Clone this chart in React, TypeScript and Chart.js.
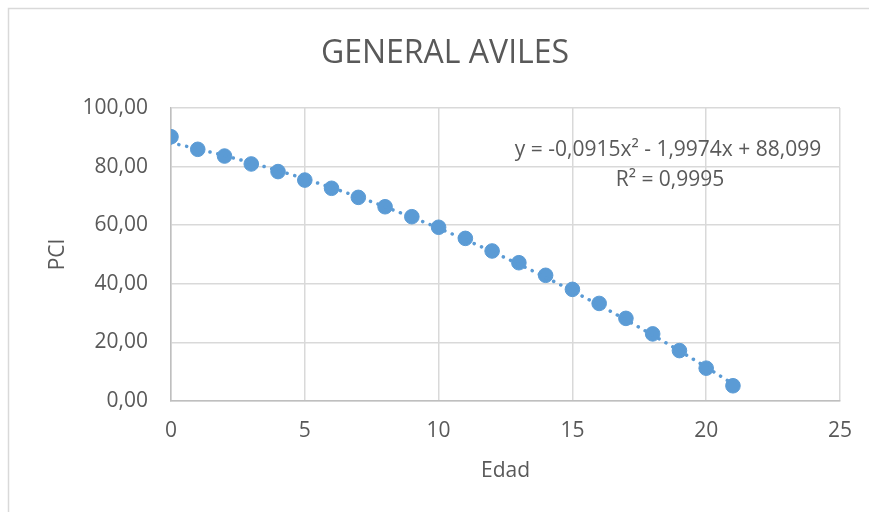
import { useEffect, useRef } from "react";
import { Chart, registerables } from "chart.js";

Chart.register(...registerables);

// Age (years) and measured PCI
const edad = [0, 1, 2, 3, 4, 5, 6, 7, 8, 9, 10, 11, 12, 13, 14, 15, 16, 17, 18, 19, 20, 21];
const pci = [
  90.2, 85.9, 83.6, 80.9, 78.3, 75.4, 72.6, 69.5, 66.3, 62.9, 59.3,
  55.5, 51.2, 47.2, 42.9, 38.1, 33.3, 28.2, 22.9, 17.2, 11.2, 5.2,
];

// Polynomial trendline (order 2) coefficients
const TREND_A = -0.0915;
const TREND_B = -1.9974;
const TREND_C = 88.099;
const trendLabel = ["y = -0,0915x² - 1,9974x + 88,099", "R² = 0,9995"];

const chartTitle = "GENERAL AVILES";
const xAxisTitle = "Edad";
const yAxisTitle = "PCI";

const X_MIN = 0;
const X_MAX = 25;
const X_STEP = 5;
const Y_MIN = 0;
const Y_MAX = 100;
const Y_STEP = 20;

const FONT = "'Open Sans', 'Noto Sans', sans-serif";
const TEXT = "#595959";
const BLUE = "#5b9bd5";
const GRID = "#d9d9d9";

function trendPoints() {
  const pts: { x: number; y: number }[] = [];
  const first = edad[0];
  const last = edad[edad.length - 1];
  for (let x = first; x <= last + 1e-9; x += 0.25) {
    pts.push({ x, y: TREND_A * x * x + TREND_B * x + TREND_C });
  }
  return pts;
}

const decorPlugin = {
  id: "decor",
  beforeDraw(chart: any) {
    const ctx = chart.ctx;
    ctx.save();
    ctx.strokeStyle = GRID;
    ctx.lineWidth = 1.5;
    ctx.strokeRect(8.5, 8.5, chart.width + 20, chart.height + 20);
    ctx.restore();
  },
  afterDraw(chart: any) {
    const ctx = chart.ctx;
    ctx.save();
    ctx.fillStyle = TEXT;
    ctx.textAlign = "center";
    ctx.textBaseline = "alphabetic";
    ctx.font = `32px ${FONT}`;
    ctx.fillText(chartTitle, 445, 63);
    ctx.font = `21px ${FONT}`;
    ctx.fillText(trendLabel[0], 668, 156);
    ctx.fillText(trendLabel[1], 670, 186);
    ctx.restore();
  },
};

export default function App() {
  const ref = useRef<HTMLCanvasElement>(null);

  useEffect(() => {
    if (!ref.current) return;
    const chart = new Chart(ref.current, {
      type: "scatter",
      data: {
        datasets: [
          {
            label: "Polinómica (PCI)",
            data: trendPoints(),
            showLine: true,
            borderColor: BLUE,
            borderWidth: 3.5,
            borderDash: [0.1, 7.9],
            borderCapStyle: "round",
            pointRadius: 0,
            pointHoverRadius: 0,
            fill: false,
            order: 0,
          },
          {
            label: yAxisTitle,
            data: edad.map((x, i) => ({ x, y: pci[i] })),
            backgroundColor: BLUE,
            borderColor: BLUE,
            borderWidth: 1,
            pointRadius: 7.3,
            order: 1,
          },
        ],
      },
      options: {
        responsive: false,
        animation: false,
        devicePixelRatio: 1,
        layout: { padding: { left: 0, top: 108, right: 26, bottom: 0 } },
        plugins: {
          legend: { display: false },
          tooltip: { enabled: false },
          title: { display: false },
        },
        scales: {
          x: {
            type: "linear",
            min: X_MIN,
            max: X_MAX,
            afterFit(scale: any) {
              scale.height = 111;
            },
            ticks: {
              stepSize: X_STEP,
              padding: 17,
              color: TEXT,
              font: { family: FONT, size: 21 },
            },
            grid: { color: GRID, lineWidth: 1.5, drawTicks: false },
            border: { color: "#bfbfbf", width: 1.5 },
            title: {
              display: true,
              text: xAxisTitle,
              color: TEXT,
              font: { family: FONT, size: 21 },
              padding: { top: 0, bottom: 28 },
            },
          },
          y: {
            type: "linear",
            min: Y_MIN,
            max: Y_MAX,
            afterFit(scale: any) {
              scale.width = 171;
            },
            ticks: {
              stepSize: Y_STEP,
              padding: 23,
              color: TEXT,
              font: { family: FONT, size: 21 },
              callback: (v: any) => Number(v).toFixed(2).replace(".", ","),
            },
            grid: { color: GRID, lineWidth: 1.5, drawTicks: false },
            border: { color: "#bfbfbf", width: 1.5 },
            title: {
              display: true,
              text: yAxisTitle,
              color: TEXT,
              font: { family: FONT, size: 21 },
              padding: { top: 45, bottom: 0 },
            },
          },
        },
      },
      plugins: [decorPlugin],
    } as any);
    return () => chart.destroy();
  }, []);

  return (
    <div style={{ position: "fixed", left: 0, top: 0, width: 869, height: 512, background: "#fff" }}>
      <canvas ref={ref} width={869} height={512} style={{ display: "block" }} />
    </div>
  );
}
